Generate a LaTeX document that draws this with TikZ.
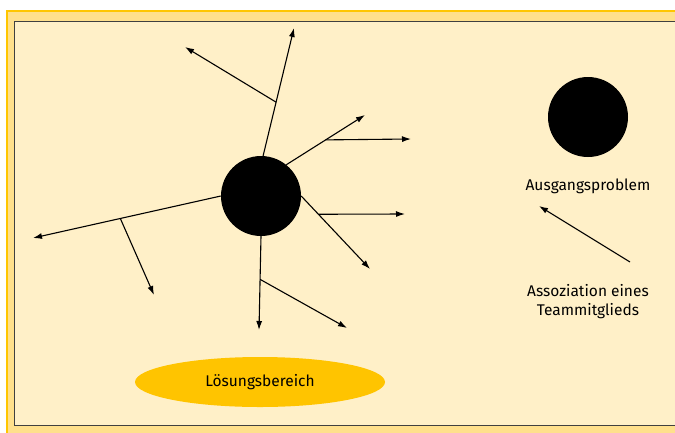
\documentclass[tikz,border=0pt]{standalone}
\usepackage{fontspec}
\setmainfont{Fira Sans}
\usetikzlibrary{arrows.meta, shapes.geometric, calc}

\definecolor{frameyellow}{HTML}{FFE08C}
\definecolor{frameedge}{HTML}{FFC600}
\definecolor{cream}{HTML}{FFF0C8}
\definecolor{areayellow}{HTML}{FFC400}

\tikzset{
  assoc/.style={-{Latex[length=9pt,width=6pt]}, line width=1.1pt},
  blob/.style={circle, fill=black, minimum size=80pt, inner sep=0pt},
  label/.style={font=\fontsize{15.5}{19}\selectfont, align=center}
}

\begin{document}
\begin{tikzpicture}[x=1pt, y=-1pt]
      \useasboundingbox (0,0) rectangle (675,432);
      % Frame
      \draw[fill=frameyellow, draw=frameedge, line width=1.5pt] (7,11) rectangle (690,440);
      \draw[fill=cream, draw=black!75, line width=0.8pt] (14,21) rectangle (690,425);

      % Solution area
      \node[ellipse, fill=areayellow, minimum width=250pt, minimum height=50pt, label] (area) at (260,382) {Lösungsbereich};

      % Starting problem
      \node[blob] (problem) at (261,196) {};

      % Associations
      \coordinate (upend) at (294,28);
      \coordinate (upbr) at ($(problem.87)!0.42!(upend)$);
      \coordinate (upbrend) at (185,47);
      \draw[assoc] (problem.87) -- (upend);
      \draw[assoc] (upbr) -- (upbrend);

      \coordinate (urend) at (365,115);
      \coordinate (urbr) at ($(problem.51)!0.5!(urend)$);
      \coordinate (urbrend) at (411,139);
      \draw[assoc] (problem.51) -- (urend);
      \draw[assoc] (urbr) -- (urbrend);

      \coordinate (lrend) at (370,269);
      \coordinate (lrbr) at ($(problem.0)!0.25!(lrend)$);
      \coordinate (lrbrend) at (405,214);
      \draw[assoc] (problem.0) -- (lrend);
      \draw[assoc] (lrbr) -- (lrbrend);

      \coordinate (dnend) at (259,330);
      \coordinate (dnbr) at ($(problem.270)!0.46!(dnend)$);
      \coordinate (dnbrend) at (347,328);
      \draw[assoc] (problem.270) -- (dnend);
      \draw[assoc] (dnbr) -- (dnbrend);

      \coordinate (lfend) at (33,238);
      \coordinate (lfbr) at ($(problem.180)!0.535!(lfend)$);
      \coordinate (lfbrend) at (154,295);
      \draw[assoc] (problem.180) -- (lfend);
      \draw[assoc] (lfbr) -- (lfbrend);

      % Legend
      \node[blob] (keyblob) at (588,117) {};
      \node[label] (keyproblem) at (588,186) {Ausgangsproblem};
      \node[label] (keyassoc) at (588,302) {Assoziation eines\\Teammitglieds};
      \coordinate (keystart) at (630,262);
      \coordinate (keyend) at (539,206);
      \draw[assoc] (keystart) -- (keyend);
    \end{tikzpicture}
\end{document}
